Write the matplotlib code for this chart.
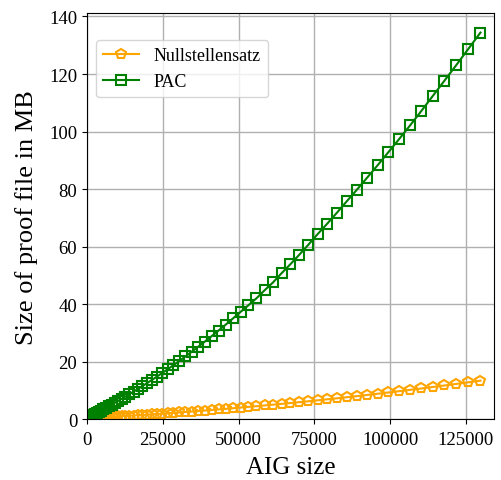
import matplotlib
matplotlib.use("Agg")
import matplotlib.pyplot as plt

plt.rcParams['font.family'] = ['Liberation Serif', 'DejaVu Serif']

aig_size = [32, 127, 285, 507, 793, 1141, 1553, 2029, 2568, 3170,
            3836, 4565, 5357, 6213, 7133, 8115, 9161, 10271, 11444, 12680,
            13980, 15343, 16769, 18259, 19813, 21429, 23109, 24853, 26660, 28530,
            30464, 32461, 34521, 36645, 38833, 41083, 43397, 45775, 48216, 50720,
            53288, 55919, 58613, 61371, 64193, 67077, 70025, 73037, 76112, 79250,
            82452, 85717, 89045, 92437, 95893, 99411, 102993, 106639, 110348, 114120,
            117956, 121855, 125817, 129843]

nullstellensatz_mb = [0.45, 0.46, 0.47, 0.48, 0.49, 0.51, 0.54, 0.56, 0.59, 0.63,
                      0.67, 0.71, 0.76, 0.81, 0.86, 0.92, 0.98, 1.05, 1.13, 1.20,
                      1.29, 1.38, 1.47, 1.57, 1.68, 1.79, 1.91, 2.03, 2.17, 2.30,
                      2.45, 2.60, 2.77, 2.94, 3.11, 3.30, 3.50, 3.70, 3.92, 4.14,
                      4.38, 4.62, 4.88, 5.14, 5.42, 5.71, 6.02, 6.33, 6.66, 7.01,
                      7.36, 7.74, 8.12, 8.53, 8.94, 9.38, 9.83, 10.30, 10.78, 11.29,
                      11.81, 12.35, 12.91, 13.49]

pac_mb = [0.64, 0.69, 0.78, 0.89, 1.05, 1.23, 1.46, 1.72, 2.01, 2.34,
          2.71, 3.12, 3.57, 4.07, 4.60, 5.18, 5.80, 6.47, 7.19, 7.96,
          8.79, 9.66, 10.60, 11.59, 12.64, 13.75, 14.93, 16.18, 17.49, 18.88,
          20.35, 21.89, 23.51, 25.22, 27.02, 28.91, 30.89, 32.96, 35.14, 37.42,
          39.7, 42.1, 44.9, 47.6, 50.8, 53.9, 57.2, 60.7, 64.4, 68.0,
          71.8, 75.8, 79.8, 84.0, 88.3, 92.8, 97.4, 102.2, 107.2, 112.4,
          117.7, 123.1, 128.7, 134.4]

series_labels = ["Nullstellensatz", "PAC"]
x_ticks = [0, 25000, 50000, 75000, 100000, 125000]
y_ticks = [0, 20, 40, 60, 80, 100, 120, 140]

fig = plt.figure(figsize=(5.01, 4.81), dpi=100)
ax = fig.add_axes([0.1737, 0.1258, 0.8123, 0.8451])

ax.plot(aig_size, nullstellensatz_mb, color='orange', marker='p', markersize=7,
        markerfacecolor='none', markeredgewidth=1.5, linewidth=1.5,
        label=series_labels[0])
ax.plot(aig_size, pac_mb, color='green', marker='s', markersize=7,
        markerfacecolor='none', markeredgewidth=1.5, linewidth=1.5,
        label=series_labels[1])

ax.set_xlim(0, 134300)
ax.set_ylim(0, 141.2)
ax.set_xticks(x_ticks)
ax.set_xticklabels([str(t) for t in x_ticks])
ax.set_yticks(y_ticks)
ax.tick_params(labelsize=13.5)
ax.tick_params(axis='x', pad=4.5)
ax.grid(True, color='#b0b0b0', linewidth=1.0)
ax.set_axisbelow(True)
ax.set_xlabel("AIG size", fontsize=18, labelpad=6)
ax.set_ylabel("Size of proof file in MB", fontsize=19, labelpad=8)
ax.legend(loc='upper left', bbox_to_anchor=(0, 0.956), fontsize=13)

fig.savefig("out.png", dpi=100)
